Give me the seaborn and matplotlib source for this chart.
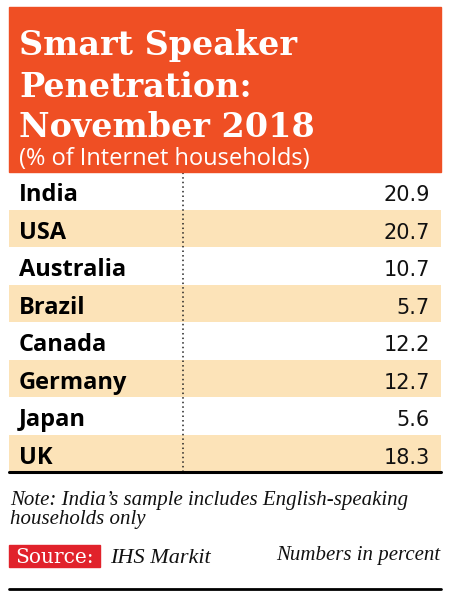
import numpy as np
import pandas as pd
import matplotlib
matplotlib.use("Agg")
import matplotlib.pyplot as plt
from matplotlib.colors import ListedColormap
from matplotlib.patches import Rectangle
import seaborn as sns

# ---- data ----
countries = ["India", "USA", "Australia", "Brazil", "Canada", "Germany", "Japan", "UK"]
values = [20.9, 20.7, 10.7, 5.7, 12.2, 12.7, 5.6, 18.3]
title_lines = ["Smart Speaker", "Penetration:", "November 2018"]
subtitle = "(% of Internet households)"
note_lines = ["Note: India\u2019s sample includes English-speaking", "households only"]
source_label = "Source:"
source_name = "IHS Markit"
units_note = "Numbers in percent"

# ---- style ----
ORANGE = "#EF4F24"
BEIGE = "#FCE3B8"
RED = "#E1222B"
W, H = 450, 599

sns.set_theme(style="white")
plt.rcParams["font.family"] = ["DejaVu Sans"]

fig = plt.figure(figsize=(W / 100, H / 100), dpi=100)
fig.patch.set_facecolor("white")

def fx(x):
    return x / W

def fy(y):
    return 1 - y / H

# header box
fig.patches.append(Rectangle((fx(9), fy(172)), fx(441) - fx(9), fy(7) - fy(172),
                             transform=fig.transFigure, color=ORANGE, zorder=0))
for line, base in zip(title_lines, [55, 97, 137]):
    fig.text(fx(19), fy(base), line, color="white", fontsize=24, fontweight="bold",
             family="DejaVu Serif", va="baseline", ha="left")
fig.text(fx(19), fy(165), subtitle, color="white", fontsize=17, family="Open Sans",
         va="baseline", ha="left")

# table
df = pd.DataFrame({"country": countries, "value": values})
stripe = pd.DataFrame({"s": [i % 2 for i in range(len(df))]}, index=df["country"])
ax = fig.add_axes([fx(9), fy(472), fx(441) - fx(9), fy(172) - fy(472)])
sns.heatmap(stripe, cmap=ListedColormap(["white", BEIGE]), cbar=False, ax=ax,
            xticklabels=False, yticklabels=False, vmin=0, vmax=1)
ax.set_xlabel("")
ax.set_ylabel("")
div = (183 - 9) / (441 - 9)
ax.axvline(div, color="#222222", lw=1.1, ls=(0, (1, 2)))
for i, (c, v) in enumerate(zip(df["country"], df["value"])):
    ax.text((19 - 9) / 432, i + 0.78, c, fontsize=17, fontweight="bold", family="Open Sans",
            color="black", ha="left", va="baseline")
    ax.text((430 - 9) / 432, i + 0.78, f"{v:.1f}", fontsize=15, family="DejaVu Sans",
            color="#111111", ha="right", va="baseline")
for s in ax.spines.values():
    s.set_visible(False)
ax.axhline(len(df), color="black", lw=2.2, clip_on=False)

# footer
for line, base in zip(note_lines, [505, 524]):
    fig.text(fx(10), fy(base), line, fontsize=15, style="italic", family="Liberation Serif",
             color="#111111", va="baseline", ha="left")
fig.patches.append(Rectangle((fx(9), fy(567)), fx(100) - fx(9), fy(545) - fy(567),
                             transform=fig.transFigure, color=RED, zorder=0))
fig.text(fx(15), fy(563), source_label, color="white", fontsize=14.5, family="DejaVu Serif",
         va="baseline", ha="left")
fig.text(fx(110), fy(563), source_name, color="#111111", fontsize=16, style="italic",
         family="Liberation Serif", va="baseline", ha="left")
fig.text(fx(440), fy(560), units_note, color="#111111", fontsize=15, style="italic",
         family="Liberation Serif", va="baseline", ha="right")
fig.add_artist(plt.Line2D([fx(9), fx(441)], [fy(589), fy(589)], transform=fig.transFigure,
                          color="black", lw=2))

fig.savefig("out.png", dpi=100)
